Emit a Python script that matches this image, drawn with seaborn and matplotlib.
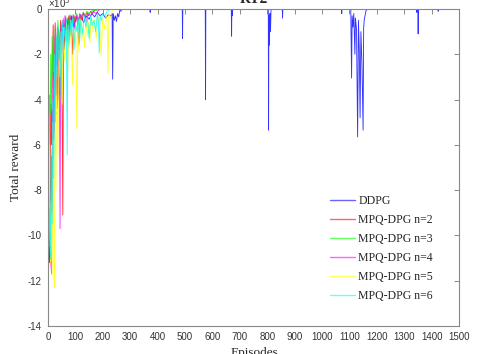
import numpy as np
import pandas as pd
import matplotlib
matplotlib.use("Agg")
import matplotlib.pyplot as plt
import seaborn as sns

# ---------------- data ----------------
ddpg_ep = [0, 3, 6, 9, 12, 15, 18, 21, 25, 30, 35, 40, 45, 50, 55, 60, 65, 70, 75, 80, 85, 90, 95, 100,
           110, 120, 130, 140, 150, 160, 170, 180, 190, 200, 210, 220, 230, 234, 236, 238, 242, 246, 250,
           254, 258, 262, 266, 270, 300, 372, 373, 374, 490, 491, 492, 574, 575, 576, 669, 670, 671, 672,
           673, 804, 805, 806, 808, 810, 812, 814, 855, 856, 857, 1071, 1072, 1073, 1105, 1108, 1110,
           1113, 1116, 1120, 1122, 1126, 1130, 1133, 1136, 1139, 1142, 1146, 1150, 1152, 1154, 1157, 1160,
           1165, 1345, 1346, 1347, 1350, 1351, 1352, 1423, 1424, 1425, 1500]
ddpg_val = [-10.8, -9.5, -11.2, -8.0, -6.5, -9.0, -4.5, -5.8, -2.5, -3.8, -1.6, -2.2, -0.9, -1.4, -0.7,
            -1.8, -0.5, -0.9, -0.4, -1.2, -0.3, -0.6, -0.8, -0.35, -0.5, -0.25, -0.6, -0.3, -0.45, -0.2,
            -0.35, -0.15, -0.3, -0.2, -0.4, -0.25, -0.3, -0.2, -3.1, -0.2, -0.5, -0.3, -0.55, -0.2, -0.35,
            -0.05, -0.1, 0, 0, 0, -0.15, 0, 0, -1.3, 0, 0, -4.0, 0, 0, -1.2, 0, -0.3, 0, 0, -5.35, -0.3,
            -1.6, -0.2, -1.0, 0, 0, -0.4, 0, 0, -0.2, 0, 0, -3.05, -0.3, -0.8, -0.2, -2.0, -0.4, -0.9,
            -5.65, -0.5, -1.8, -4.8, -1.0, -2.5, -5.35, -0.85, -0.5, -0.3, -0.1, 0, 0, -0.15, 0, 0, -1.1,
            0, 0, -0.1, 0, 0]

n2_ep = [0, 2, 4, 6, 8, 10, 13, 16, 19, 22, 26, 30, 34, 38, 42, 46, 50, 54, 57, 60, 64, 68, 72, 76, 80,
         85, 90, 95, 100, 106, 112, 118, 124, 130, 136, 142, 148, 155, 162, 170, 180, 1500]
n2_val = [-10.5, -11.4, -9.8, -11.0, -7.5, -4.2, -6.0, -2.3, -0.7, -3.5, -0.6, -1.8, -4.4, -0.9, -2.6,
          -0.5, -1.2, -9.1, -0.8, -1.5, -0.4, -1.1, -0.6, -0.3, -0.9, -0.4, -2.0, -0.3, -0.6, -0.25,
          -1.6, -0.3, -0.5, -0.2, -0.35, -0.15, -0.3, -0.1, -0.2, -0.05, 0, 0]

n3_ep = [0, 2, 4, 6, 8, 10, 12, 15, 18, 21, 24, 28, 32, 36, 40, 44, 48, 52, 56, 60, 65, 70, 75, 80, 86,
         92, 98, 104, 110, 116, 122, 128, 135, 142, 150, 158, 166, 175, 185, 1500]
n3_val = [-8.4, -3.2, -6.5, -3.8, -4.6, -2.0, -4.4, -1.2, -3.0, -0.8, -4.7, -1.0, -2.2, -0.5, -1.4,
          -3.8, -0.6, -1.1, -0.4, -0.9, -0.3, -1.5, -0.5, -0.25, -0.8, -0.3, -0.5, -0.2, -0.7, -0.25,
          -0.4, -0.15, -0.3, -0.1, -0.2, -0.1, -0.05, -0.08, 0, 0]

n4_ep = [0, 3, 6, 9, 13, 16, 19, 22, 26, 30, 34, 38, 41, 44, 47, 50, 54, 58, 62, 66, 70, 75, 80, 86, 92,
         98, 104, 110, 116, 122, 130, 138, 146, 155, 165, 175, 185, 195, 1500]
n4_val = [-9.0, -10.8, -8.2, -11.0, -11.7, -6.0, -2.8, -5.5, -1.2, -3.6, -0.8, -4.0, -1.5, -9.7, -0.7,
          -2.0, -0.5, -1.2, -0.3, -0.8, -0.4, -1.4, -0.3, -0.6, -0.25, -0.9, -0.3, -0.5, -0.2, -0.4,
          -0.15, -0.6, -0.2, -0.3, -0.1, -0.2, -0.05, 0, 0]

n5_ep = [0, 3, 6, 9, 12, 15, 18, 21, 23, 26, 29, 32, 36, 40, 44, 48, 52, 56, 60, 64, 68, 72, 76, 80, 84,
         89, 93, 97, 101, 105, 109, 113, 118, 123, 128, 133, 138, 143, 148, 153, 158, 164, 170, 176,
         182, 188, 194, 200, 206, 212, 216, 219, 222, 228, 234, 240, 1500]
n5_val = [-3.0, -10.5, -6.0, -11.2, -8.5, -11.8, -5.0, -10.0, -12.3, -4.5, -8.0, -2.5, -6.5, -1.8, -3.0,
          -1.0, -4.2, -0.8, -2.3, -1.2, -0.6, -2.8, -0.9, -1.5, -0.5, -3.36, -0.8, -1.6, -0.6, -5.3,
          -0.7, -1.9, -0.5, -1.4, -0.8, -1.7, -0.4, -1.2, -0.6, -1.5, -0.3, -1.0, -0.5, -1.3, -0.3,
          -0.8, -2.05, -0.4, -0.9, -0.3, -0.6, -2.85, -0.2, -0.4, -0.1, 0, 0]

n6_ep = [0, 3, 6, 9, 12, 15, 18, 21, 24, 27, 30, 33, 36, 40, 44, 48, 52, 56, 60, 64, 67, 70, 73, 77,
         81, 85, 90, 95, 100, 105, 110, 115, 120, 126, 132, 138, 144, 150, 156, 162, 168, 174, 180,
         184, 187, 190, 195, 200, 208, 216, 225, 1500]
n6_val = [-7.0, -10.2, -8.8, -11.0, -6.2, -9.5, -4.0, -7.5, -2.0, -5.0, -1.2, -3.0, -0.7, -2.2, -1.0,
          -4.0, -0.6, -1.8, -0.8, -1.4, -0.5, -6.45, -0.7, -1.6, -0.5, -1.2, -0.4, -1.8, -0.6, -1.0,
          -0.4, -1.5, -0.5, -1.1, -0.3, -0.8, -0.4, -1.3, -0.3, -0.7, -0.5, -1.0, -0.2, -0.6, -1.95,
          -0.3, -0.5, -0.2, -0.3, -0.1, 0, 0]

labels = ["DDPG", "MPQ-DPG n=2", "MPQ-DPG n=3", "MPQ-DPG n=4", "MPQ-DPG n=5", "MPQ-DPG n=6"]
colors = ["#0000ff", "#ff0000", "#00ff00", "#ff00ff", "#ffff00", "#00ffff"]
xticks = list(range(0, 1501, 100))
yticks = list(range(-14, 1, 2))

series = [(ddpg_ep, ddpg_val), (n2_ep, n2_val), (n3_ep, n3_val),
          (n4_ep, n4_val), (n5_ep, n5_val), (n6_ep, n6_val)]

# ---------------- figure ----------------
sns.set_style("white")
plt.rcParams["font.family"] = ["Liberation Serif", "DejaVu Serif"]

W, H = 491, 354
fig = plt.figure(figsize=(W / 100, H / 100), dpi=100)
ax = fig.add_axes([48 / W, 28 / H, (459 - 48) / W, (326 - 9) / H])

for (ep, val), lab, col in zip(series, labels, colors):
    df = pd.DataFrame({"Episodes": ep, "reward": val})
    sns.lineplot(data=df, x="Episodes", y="reward", ax=ax, color=col, label=lab,
                 estimator=None, sort=False, linewidth=0.65, alpha=0.8)

ax.set_xlim(0, 1500)
ax.set_ylim(-14, 0)
ax.set_xticks(xticks)
ax.set_yticks(yticks)
tick_font = dict(family=["Liberation Sans", "DejaVu Sans"], size=7, color="#333333")
ax.set_xticklabels([str(t) for t in xticks], **tick_font)
ax.set_yticklabels([str(t) for t in yticks], **tick_font)
ax.tick_params(direction="in", length=3.5, width=0.6, color="#777777",
               top=True, right=True, pad=4.5)
for s in ax.spines.values():
    s.set_color("#888888")
    s.set_linewidth(0.8)

ax.set_xlabel("")
ax.set_ylabel("Total reward", fontsize=9.5, labelpad=4)
fig.text(254 / W, -2 / H, "Episodes", ha="center", va="baseline", fontsize=9.5)
fig.text(254 / W, (H - 3) / H, "RT2", ha="center", va="baseline", fontsize=11, fontweight="bold")
fig.text(48 / W, (H - 7.5) / H, "\u00d710$^{5}$", ha="left", va="baseline",
         family=["Liberation Sans", "DejaVu Sans"], fontsize=7, color="#333333")

leg = ax.legend(loc="upper left", bbox_to_anchor=(330 / W, (H - 195) / H),
                bbox_transform=fig.transFigure, frameon=False, fontsize=8.5,
                handlelength=2.1, handletextpad=0.3, labelspacing=0.6, borderpad=0,
                borderaxespad=0)
for line in leg.get_lines():
    line.set_linewidth(1.0)
    line.set_alpha(0.6)

fig.savefig("out.png", dpi=100)
